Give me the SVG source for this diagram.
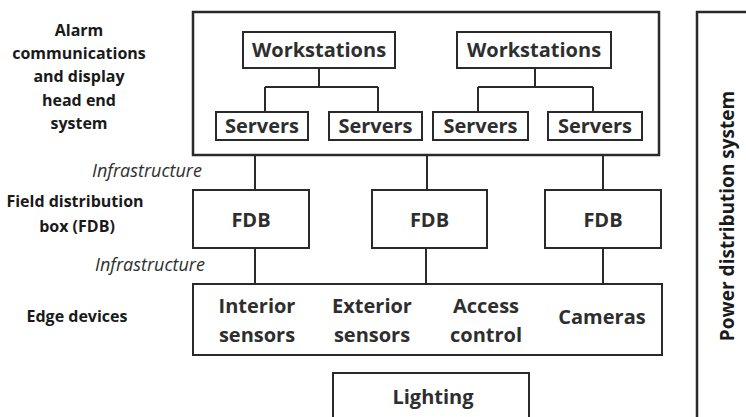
<svg xmlns="http://www.w3.org/2000/svg" width="746" height="417" viewBox="0 0 746 417">
  <style>
    .box { fill: #fff; stroke: #2a2a2a; stroke-width: 2; }
    .frame { fill: #fff; stroke: #2a2a2a; stroke-width: 2.5; }
    .wire { fill: none; stroke: #2a2a2a; stroke-width: 2; }
    text { font-family: "Open Sans", "DejaVu Sans", sans-serif; fill: #2e2e2e; text-anchor: middle; }
    .node { font-size: 20px; font-weight: 700; }
    .side { font-size: 19px; font-weight: 700; fill: #1a1a1a; }
    .lbl { font-size: 16px; font-weight: 700; fill: #1a1a1a; }
    .infra { font-size: 18px; font-style: italic; font-weight: 400; }
  </style>
  <rect width="746" height="417" fill="#fff"/>

  <!-- side labels -->
  <g id="label-headend">
    <text class="lbl" x="79" y="36">Alarm</text>
    <text class="lbl" x="79" y="59">communications</text>
    <text class="lbl" x="79" y="82">and display</text>
    <text class="lbl" x="79" y="106">head end</text>
    <text class="lbl" x="79" y="129">system</text>
  </g>
  <g id="label-fdb">
    <text class="lbl" x="75" y="207">Field distribution</text>
    <text class="lbl" x="77" y="232">box (FDB)</text>
  </g>
  <g id="label-edge">
    <text class="lbl" x="77" y="322">Edge devices</text>
  </g>
  <text class="infra" x="147" y="177">Infrastructure</text>
  <text class="infra" x="150" y="271">Infrastructure</text>

  <!-- head end container -->
  <g id="headend">
    <rect class="frame" x="193" y="12" width="466" height="143"/>
  </g>

  <!-- connectors -->
  <g id="connectors">
    <path class="wire" d="M319 68 V87 M265 87 H378 M265 87 V112 M378 87 V112"/>
    <path class="wire" d="M535 68 V87 M478 87 H593 M478 87 V112 M593 87 V112"/>
    <path class="wire" d="M255 155 V190 M427 155 V190 M603 155 V190"/>
    <path class="wire" d="M255 248 V284 M426 248 V284 M603 248 V284"/>
  </g>

  <g id="workstations-1">
    <rect class="box" x="243" y="32" width="152" height="36"/>
    <text class="node" x="319" y="57">Workstations</text>
  </g>
  <g id="workstations-2">
    <rect class="box" x="457" y="32" width="154" height="36"/>
    <text class="node" x="534" y="57">Workstations</text>
  </g>
  <g id="servers-1">
    <rect class="box" x="216" y="112" width="92" height="28"/>
    <text class="node" x="262" y="133">Servers</text>
  </g>
  <g id="servers-2">
    <rect class="box" x="329" y="112" width="93" height="28"/>
    <text class="node" x="375.5" y="133">Servers</text>
  </g>
  <g id="servers-3">
    <rect class="box" x="433" y="112" width="95" height="28"/>
    <text class="node" x="480.5" y="133">Servers</text>
  </g>
  <g id="servers-4">
    <rect class="box" x="548" y="112" width="94" height="28"/>
    <text class="node" x="595" y="133">Servers</text>
  </g>

  <g id="fdb-1">
    <rect class="box" x="193" y="190" width="116" height="58"/>
    <text class="node" x="251" y="227">FDB</text>
  </g>
  <g id="fdb-2">
    <rect class="box" x="372" y="190" width="115" height="58"/>
    <text class="node" x="429.5" y="227">FDB</text>
  </g>
  <g id="fdb-3">
    <rect class="box" x="545" y="190" width="116" height="58"/>
    <text class="node" x="603" y="227">FDB</text>
  </g>

  <g id="edge-devices">
    <rect class="box" x="193" y="284" width="469" height="71"/>
    <text class="node" x="257" y="313">Interior</text>
    <text class="node" x="257" y="342">sensors</text>
    <text class="node" x="372" y="313">Exterior</text>
    <text class="node" x="372" y="342">sensors</text>
    <text class="node" x="486" y="313">Access</text>
    <text class="node" x="486" y="342">control</text>
    <text class="node" x="602" y="324">Cameras</text>
  </g>

  <g id="lighting">
    <rect class="box" x="333" y="373" width="196" height="60"/>
    <text class="node" x="433" y="404">Lighting</text>
  </g>

  <g id="power-distribution">
    <rect class="frame" x="697" y="12" width="70" height="420"/>
    <text class="side" transform="translate(734 216) rotate(-90)">Power distribution system</text>
  </g>
</svg>
